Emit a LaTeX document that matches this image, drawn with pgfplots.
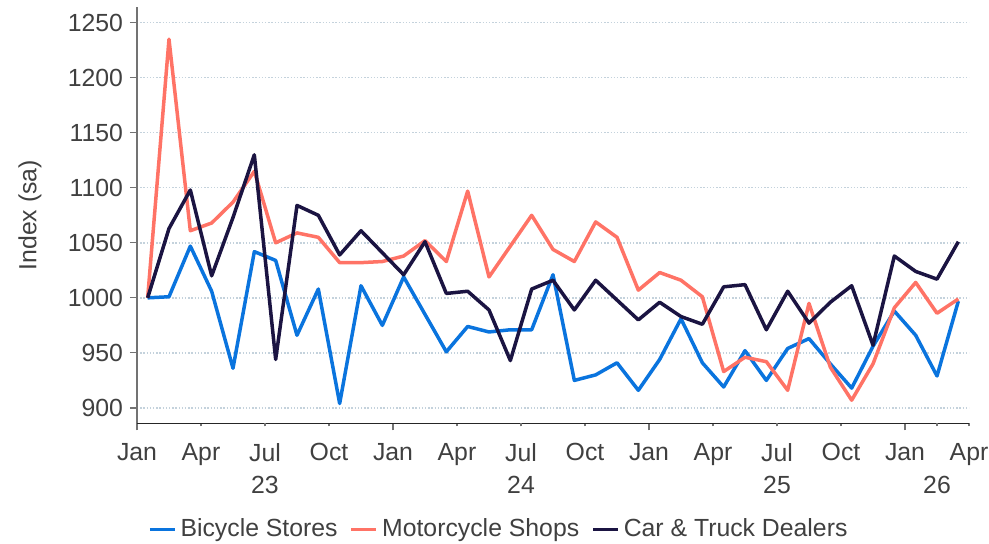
\documentclass[border=0pt]{standalone}
\usepackage{fontspec}
\setmainfont{Liberation Sans}
\usepackage{pgfplots}
\usepackage{pgfplotstable}
\pgfplotsset{compat=1.18}

\definecolor{bikeblue}{RGB}{10,116,222}
\definecolor{motored}{RGB}{255,115,102}
\definecolor{carnavy}{RGB}{27,20,66}
\definecolor{gridc}{RGB}{196,210,220}
\definecolor{txt}{RGB}{64,64,64}

% month index from Jan 2023 (points sit mid-month)
\pgfplotstableread{
x     bike  moto  car
0.5   1000  1000  1000
1.5   1001  1235  1063
2.5   1047  1061  1098
3.5   1006  1068  1020
4.5   936   1087  1073
5.5   1042  1115  1130
6.5   1034  1050  944
7.5   966   1059  1084
8.5   1008  1055  1075
9.5   904   1032  1039
10.5  1011  1032  1061
11.5  975   1033  1041
12.5  1019  1038  1021
13.5  985   1052  1051
14.5  951   1033  1004
15.5  974   1097  1006
16.5  969   1019  989
17.5  971   1047  943
18.5  971   1075  1008
19.5  1021  1044  1016
20.5  925   1033  989
21.5  930   1069  1016
22.5  941   1055  998
23.5  916   1007  980
24.5  944   1023  996
25.5  981   1016  983
26.5  941   1001  976
27.5  919   933   1010
28.5  952   946   1012
29.5  925   942   971
30.5  954   916   1006
31.5  963   995   977
32.5  940   937   996
33.5  918   907   1011
34.5  956   940   957
35.5  988   991   1038
36.5  966   1014  1024
37.5  929   986   1017
38.5  997   999   1051
}\datatable

\begin{document}
\begin{tikzpicture}
\path[use as bounding box] (-68.5pt,-59.85pt) rectangle (426pt,211.65pt);
\begin{axis}[
    at={(0,0)}, anchor=south west,
    scale only axis,
    width=416pt, height=208pt,
    xmin=0, xmax=39,
    ymin=886, ymax=1264,
    axis x line*=bottom,
    axis y line*=left,
    x axis line style={draw=black!85, line width=0.7pt, -},
    y axis line style={draw=black!55, line width=0.7pt, -},
    tick align=outside,
    major tick length=3.5pt,
    tick style={draw=black!55, line width=0.6pt},
    xtick={0,3,...,39},
    xticklabels={Jan,Apr,Jul,Oct,Jan,Apr,Jul,Oct,Jan,Apr,Jul,Oct,Jan,Apr},
    xtick style={/pgfplots/major tick length=1.5pt},
    minor xtick={0,12,24,36},
    minor tick length=3.5pt,
    extra x ticks={6,18,30,37.5},
    extra x tick labels={23,24,25,26},
    extra x tick style={major tick length=0pt, xticklabel style={yshift=-20pt}},
    ytick={900,950,...,1250},
    ymajorgrids,
    major grid style={draw=gridc, line width=0.7pt, dash pattern=on 0.7pt off 0.9pt},
    /pgf/number format/assume math mode=true,
    /pgf/number format/set thousands separator={},
    tick label style={font=\fontsize{12.4}{14}\selectfont, text=txt},
    xticklabel style={yshift=-3pt},
    ylabel={Index (sa)},
    ylabel style={font=\fontsize{12.4}{14}\selectfont, text=txt,
        at={(axis description cs:-0.1286,0.5)}, anchor=center},
    legend style={draw=none, fill=none,
        font=\fontsize{12.4}{14}\selectfont, text=txt,
        at={(axis description cs:0.436,-0.255)}, anchor=center,
        legend columns=-1,
        /tikz/every even column/.append style={column sep=4pt}},
    legend image code/.code={\draw[#1] (0pt,0pt) -- (12.5pt,0pt);},
    every axis plot/.append style={line width=1.75pt, line join=round},
]
\addplot[color=bikeblue] table[x=x, y=bike] {\datatable};
\addlegendentry{Bicycle Stores}
\addplot[color=motored] table[x=x, y=moto] {\datatable};
\addlegendentry{Motorcycle Shops}
\addplot[color=carnavy] table[x=x, y=car] {\datatable};
\addlegendentry{Car \& Truck Dealers}
\end{axis}
\end{tikzpicture}
\end{document}
